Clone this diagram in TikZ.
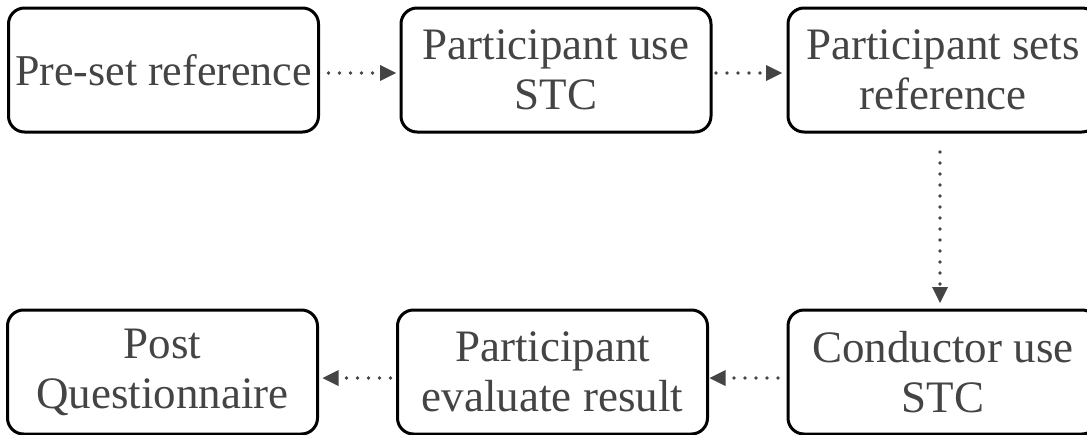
\documentclass[tikz,border=0pt]{standalone}
\usepackage{fontspec}
\setmainfont{Liberation Serif}
\usetikzlibrary{arrows.meta}

\definecolor{inkgray}{HTML}{444444}

\tikzset{
  stage/.style={draw=black, line width=3pt, rounded corners=16pt,
    minimum width=310pt, minimum height=124pt, inner sep=0pt, outer sep=0pt,
    align=center, text=inkgray, font=\fontsize{45}{50}\selectfont},
  flow/.style={draw=inkgray, line width=3.6pt, line cap=round,
    dash pattern=on 0pt off 11pt,
    -{Triangle[length=16pt,width=16pt,fill=inkgray,line width=0pt]}}
}

\begin{document}
\begin{tikzpicture}[x=1pt, y=-1pt]
  \useasboundingbox (0,0) rectangle (1087,434);
  \clip (0,0) rectangle (1087,434);

  % top row
  \node[stage, font=\fontsize{44}{50}\selectfont] (b1) at (163.5,70)
    {\raisebox{-2pt}{Pre-set reference}};
  \node[stage] (b2) at (556,70)   {Participant use\\STC};
  \node[stage] (b3) at (943,70)   {Participant sets\\reference};

  % bottom row
  \node[stage] (b4) at (162.5,372) {Post\\Questionnaire};
  \node[stage] (b5) at (552.5,372) {Participant\\evaluate result};
  \node[stage] (b6) at (943,372)   {Conductor use\\STC};

  % dotted connectors
  \draw[flow, shorten <=10pt, shorten >=5pt]
    ([yshift=-3pt]b1.east) -- ([yshift=-3pt]b2.west);
  \draw[flow, shorten <=5pt, shorten >=6pt]
    ([yshift=-3pt]b2.east) -- ([yshift=-3pt]b3.west);
  \draw[flow, shorten <=20pt, shorten >=7pt]
    ([xshift=-3pt]b3.south) -- ([xshift=-3pt]b6.north);
  \draw[flow, shorten <=10pt, shorten >=2pt]
    ([yshift=-6pt]b6.west) -- ([yshift=-6pt]b5.east);
  \draw[flow, shorten <=7pt, shorten >=5pt]
    ([yshift=-6pt]b5.west) -- ([yshift=-6pt]b4.east);
\end{tikzpicture}
\end{document}
